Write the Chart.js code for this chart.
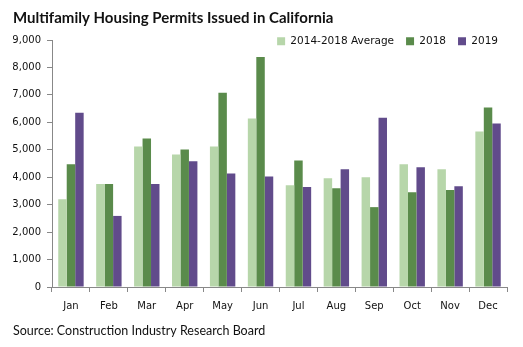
<!DOCTYPE html>
<html>
<head>
<meta charset="utf-8">
<script src="https://cdn.jsdelivr.net/npm/chart.js@4.4.0/dist/chart.umd.min.js"></script>
<style>
  html, body { margin: 0; padding: 0; background: #fff; }
  #wrap { width: 523px; height: 347px; }
</style>
</head>
<body>
<div id="wrap"><canvas id="permits" width="523" height="347"></canvas></div>
<script>
const months = ["Jan", "Feb", "Mar", "Apr", "May", "Jun", "Jul", "Aug", "Sep", "Oct", "Nov", "Dec"];
const avg1418 = [3200, 3750, 5120, 4830, 5120, 6140, 3710, 3960, 4000, 4470, 4290, 5670];
const permits2018 = [4470, 3750, 5410, 5010, 7080, 8380, 4610, 3600, 2910, 3450, 3530, 6540];
const permits2019 = [6350, 2590, 3750, 4580, 4140, 4030, 3640, 4290, 6170, 4360, 3670, 5960];

// legend sits level with the top of the plot, so it takes little height in the layout
const tightLegend = {
    id: 'tightLegend',
    beforeInit(chart) {
        const fitOrig = chart.legend.fit;
        chart.legend.fit = function () {
            fitOrig.call(this);
            this.height = 16;
        };
    },
    afterLayout(chart) {
        const lg = chart.legend;
        lg.bottom = lg.top + 34;   // don't clip the labels
        lg.height = 34;
        lg.right += 3;
    }
};

const axisGrey = '#888888';
const tickFont = { family: 'DejaVu Sans', size: 10 };

new Chart(document.getElementById('permits').getContext('2d'), {
    type: 'bar',
    data: {
        labels: months,
        datasets: [
            { label: '2014-2018 Average', data: avg1418, backgroundColor: '#b7d6aa' },
            { label: '2018', data: permits2018, backgroundColor: '#5a8b4b' },
            { label: '2019', data: permits2019, backgroundColor: '#614b8b' }
        ]
    },
    options: {
        responsive: false,
        animation: false,
        categoryPercentage: 0.67,
        barPercentage: 1.0,
        layout: { padding: { left: 13, right: 16, top: 0, bottom: 0 } },
        plugins: {
            title: {
                display: true,
                text: 'Multifamily Housing Permits Issued in California',
                align: 'start',
                color: '#111',
                font: { family: 'Lato', size: 15, weight: 'bold' },
                padding: { top: 9, bottom: -3 }
            },
            subtitle: {
                display: true,
                position: 'bottom',
                text: 'Source: Construction Industry Research Board',
                align: 'start',
                color: '#111',
                font: { family: 'Lato', size: 12.5 },
                padding: { top: 3.5, bottom: 8.5 }
            },
            legend: {
                position: 'top',
                align: 'end',
                labels: {
                    boxWidth: 8,
                    boxHeight: 8,
                    padding: 12,
                    color: '#111',
                    font: { family: 'DejaVu Sans', size: 10.5 }
                }
            },
            tooltip: { enabled: false }
        },
        scales: {
            x: {
                grid: { display: true, drawOnChartArea: false, tickLength: 5, color: axisGrey },
                border: { display: true, color: axisGrey },
                ticks: { color: '#111', padding: 8, font: tickFont }
            },
            y: {
                min: 0, max: 9000,
                afterFit: (scale) => { scale.width = 39; },
                grid: { display: true, drawOnChartArea: false, tickLength: 5, color: axisGrey },
                border: { display: true, color: axisGrey },
                ticks: {
                    stepSize: 1000,
                    color: '#111',
                    padding: 6,
                    font: tickFont,
                    callback: (val) => val.toLocaleString('en-US')
                }
            }
        }
    },
    plugins: [tightLegend]
});
</script>
</body>
</html>
